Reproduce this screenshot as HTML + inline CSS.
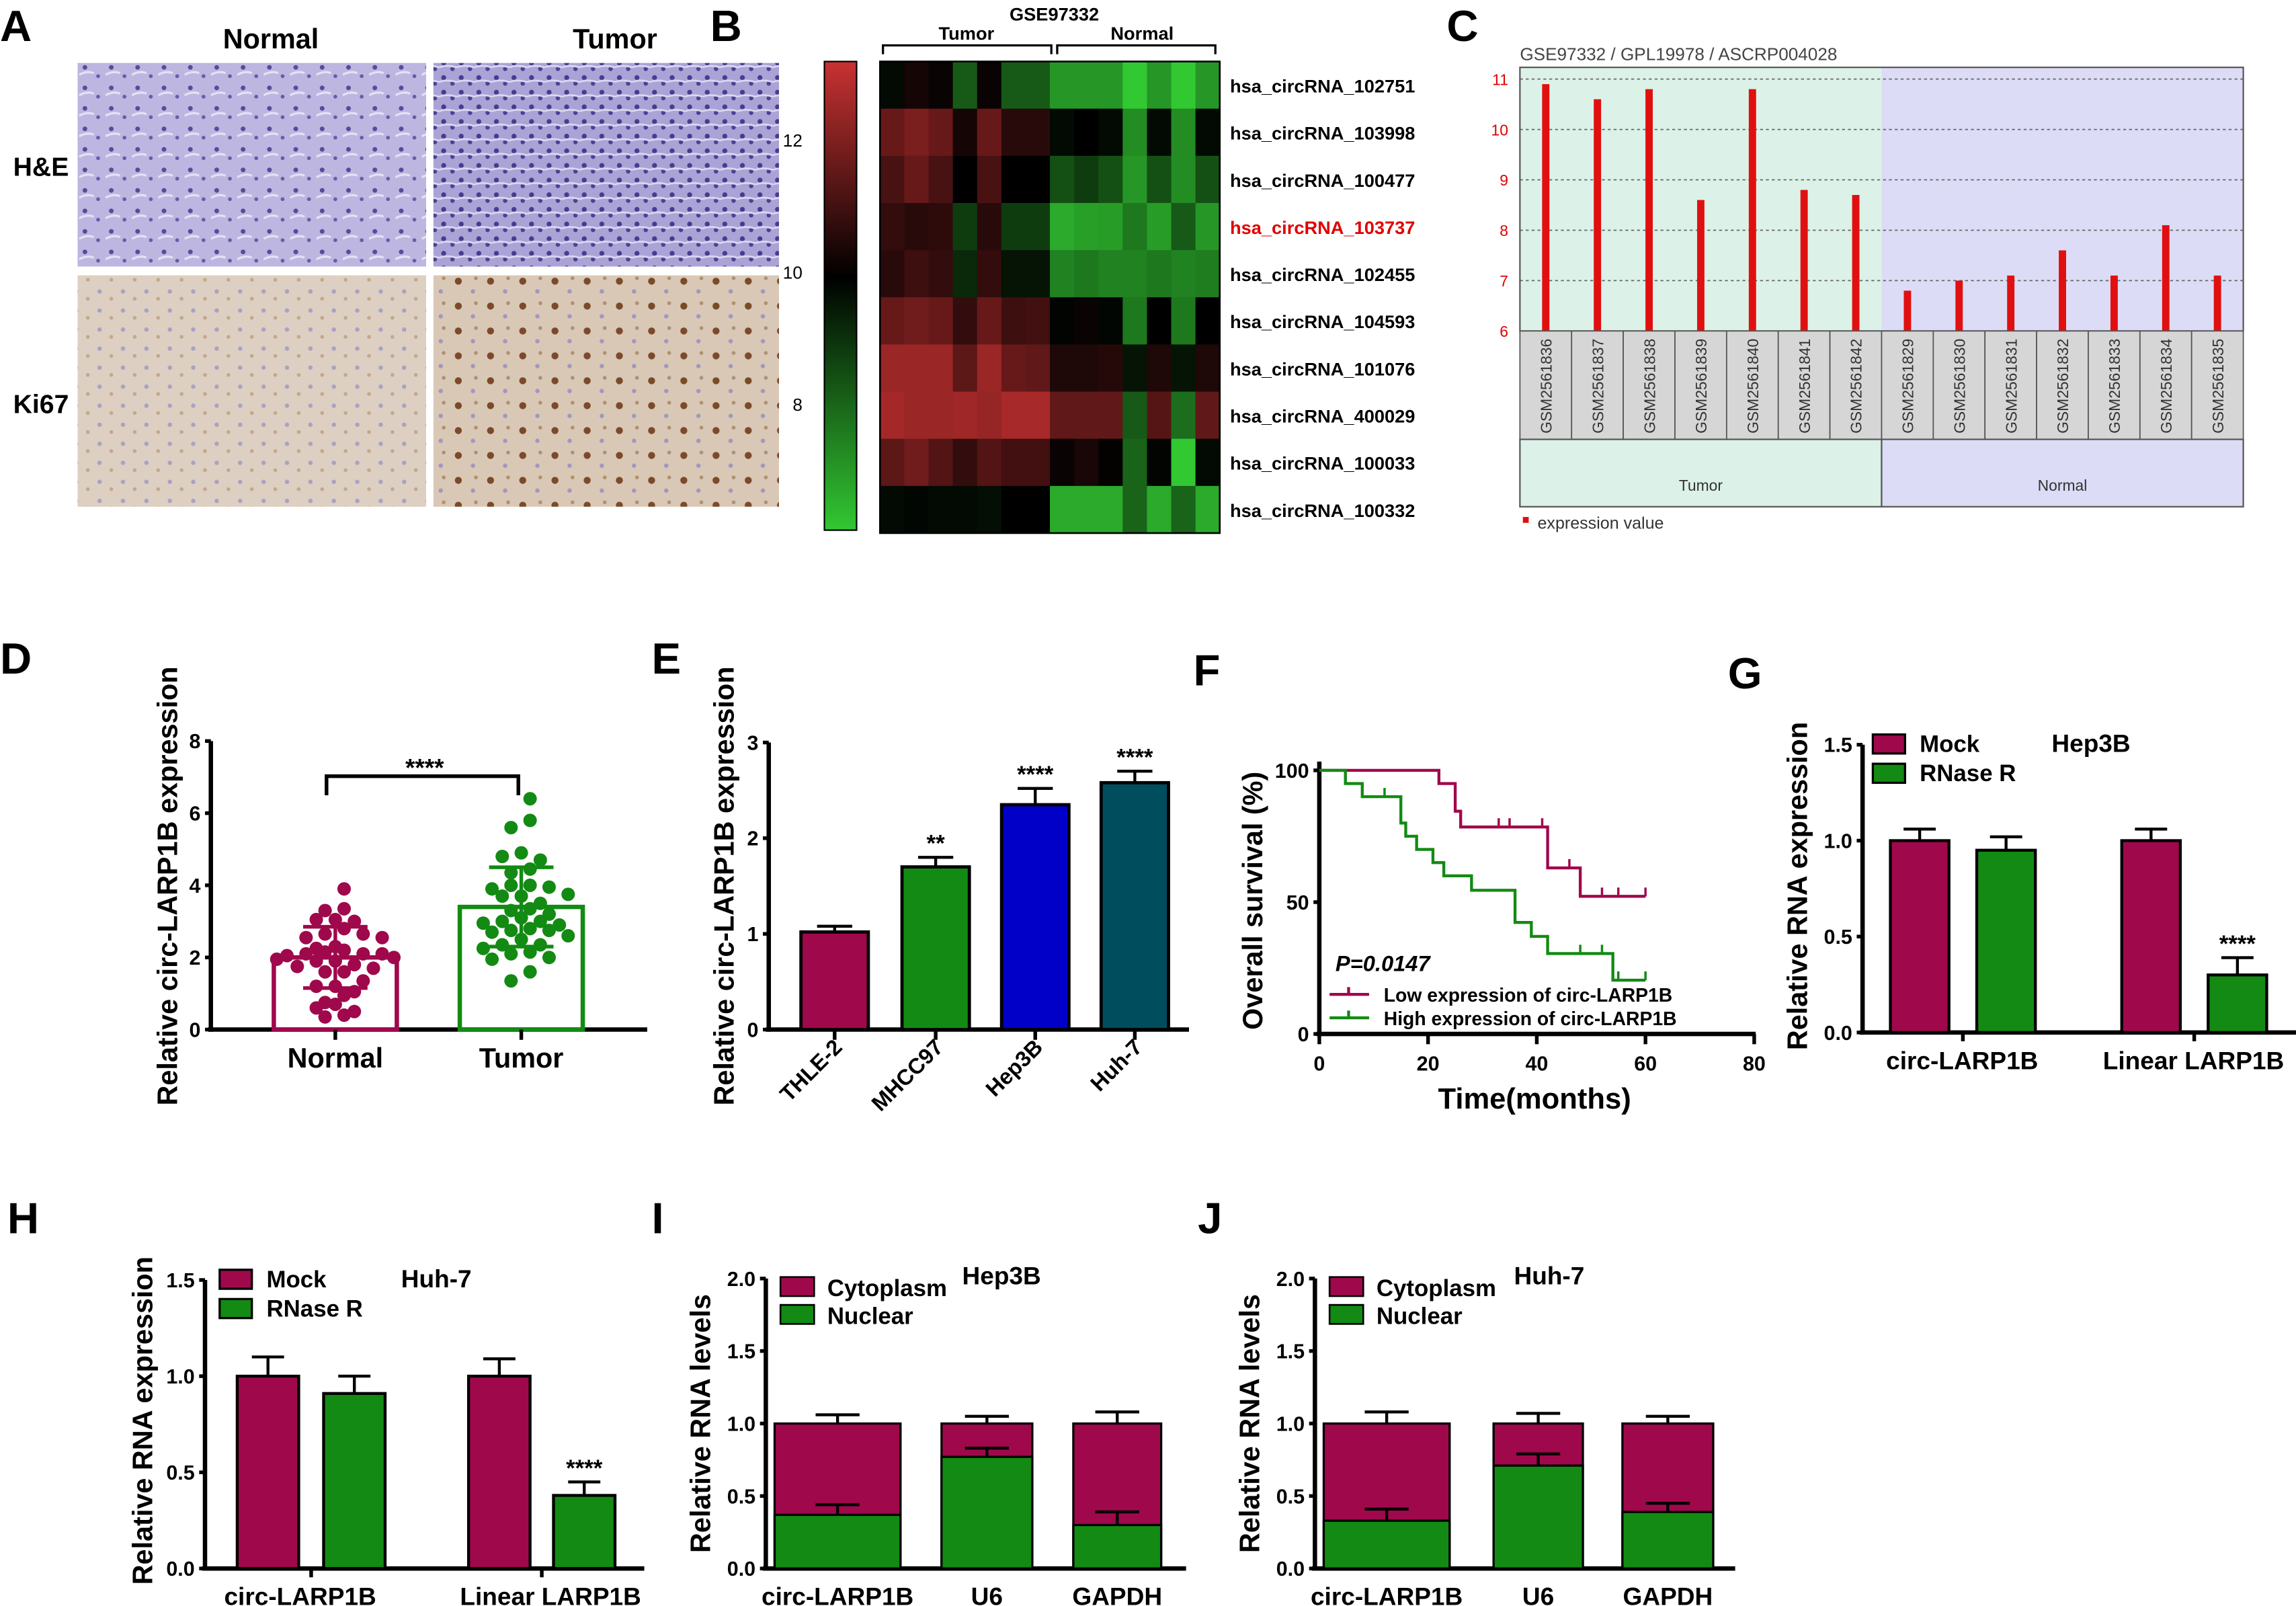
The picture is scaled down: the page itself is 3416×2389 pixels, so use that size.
<!DOCTYPE html>
<html><head><meta charset="utf-8"><style>
html,body{margin:0;padding:0;background:#fff;}
svg{display:block;font-family:"Liberation Sans",Arial,sans-serif;}
</style></head><body>
<svg id="fig" xmlns="http://www.w3.org/2000/svg" width="3416" height="2389" viewBox="0 0 1568 1096.6" preserveAspectRatio="none">
<defs>
<pattern id="he" width="18" height="14" patternUnits="userSpaceOnUse">
<rect width="18" height="14" fill="#bdb6e0"/><circle cx="4" cy="4" r="1.6" fill="#5a4a9a"/><circle cx="13" cy="10" r="1.3" fill="#6a5aa8"/><path d="M0 9 Q6 6 10 8" stroke="#e4e0f4" stroke-width="1.5" fill="none"/></pattern>
<pattern id="he2" width="12" height="10" patternUnits="userSpaceOnUse">
<rect width="12" height="10" fill="#a9a3d6"/><circle cx="3" cy="3" r="1.7" fill="#4a3a8f"/><circle cx="9" cy="7" r="1.5" fill="#4e3e94"/><path d="M0 6 Q5 4 12 6" stroke="#dcd8f0" stroke-width="1.2" fill="none"/></pattern>
<pattern id="ki" width="16" height="13" patternUnits="userSpaceOnUse">
<rect width="16" height="13" fill="#ddd0c2"/><circle cx="4" cy="4" r="1.5" fill="#a9a2c4"/><circle cx="12" cy="9" r="1.3" fill="#c4a88a"/></pattern>
<pattern id="ki2" width="22" height="17" patternUnits="userSpaceOnUse">
<rect width="22" height="17" fill="#dac8b6"/><circle cx="5" cy="5" r="2.4" fill="#7a4a2a"/><circle cx="15" cy="12" r="1.5" fill="#9f98c0"/><circle cx="17" cy="3" r="1.3" fill="#b09070"/></pattern>
<linearGradient id="cbar" x1="0" y1="0" x2="0" y2="1">
<stop offset="0" stop-color="#c83232"/><stop offset="0.46" stop-color="#000"/><stop offset="1" stop-color="#32c832"/></linearGradient>
</defs>
</svg>
<script>
// ---------- DATA ----------
const heatRows = ["hsa_circRNA_102751","hsa_circRNA_103998","hsa_circRNA_100477","hsa_circRNA_103737","hsa_circRNA_102455","hsa_circRNA_104593","hsa_circRNA_101076","hsa_circRNA_400029","hsa_circRNA_100033","hsa_circRNA_100332"];
const heatValues = [
[-0.05,0.1,0.05,-0.45,0.05,-0.45,-0.45,-0.75,-0.75,-0.75,-1,-0.75,-1,-0.75],
[0.5,0.6,0.5,0.1,0.5,0.2,0.2,-0.05,0,-0.05,-0.7,-0.05,-0.7,-0.05],
[0.35,0.5,0.35,0,0.35,0,0,-0.4,-0.3,-0.4,-0.75,-0.4,-0.7,-0.4],
[0.25,0.2,0.22,-0.3,0.2,-0.3,-0.3,-0.85,-0.8,-0.78,-0.6,-0.78,-0.45,-0.75],
[0.2,0.3,0.25,-0.2,0.25,-0.1,-0.1,-0.65,-0.6,-0.65,-0.65,-0.6,-0.65,-0.62],
[0.5,0.55,0.5,0.25,0.5,0.3,0.32,-0.02,0.05,-0.03,-0.6,0,-0.6,0],
[0.75,0.75,0.75,0.45,0.75,0.5,0.47,0.15,0.15,0.18,-0.1,0.15,-0.1,0.15],
[0.8,0.75,0.75,0.78,0.73,0.82,0.82,0.47,0.47,0.47,-0.45,0.42,-0.55,0.47],
[0.45,0.55,0.4,0.25,0.4,0.32,0.32,0.05,0.12,0.02,-0.5,-0.02,-1,-0.05],
[-0.05,-0.03,-0.05,-0.05,-0.07,0,0,-0.85,-0.85,-0.85,-0.5,-0.85,-0.5,-0.85]];
const cbarTicks = [12,10,8];
const gsmSamples = ["GSM2561836","GSM2561837","GSM2561838","GSM2561839","GSM2561840","GSM2561841","GSM2561842","GSM2561829","GSM2561830","GSM2561831","GSM2561832","GSM2561833","GSM2561834","GSM2561835"];
const gsmValues = [10.9,10.6,10.8,8.6,10.8,8.8,8.7,6.8,7.0,7.1,7.6,7.1,8.1,7.1];
const gsmTicks = [11,10,9,8,7,6];
const dNormal = [3.9,3.35,3.3,3.05,3.05,3.0,2.8,2.65,2.65,2.55,2.55,2.3,2.25,2.2,2.15,2.1,2.1,2.1,2.05,2.0,1.95,1.9,1.9,1.8,1.75,1.7,1.6,1.6,1.35,1.2,1.2,1.05,0.95,0.7,0.75,0.6,0.5,0.4,0.35];
const dTumor = [6.4,5.8,5.6,4.9,4.8,4.7,4.45,4.35,4.0,4.0,3.95,3.9,3.75,3.7,3.7,3.5,3.35,3.3,3.2,3.1,3.0,3.0,2.95,2.9,2.8,2.75,2.75,2.7,2.6,2.5,2.35,2.35,2.25,2.15,2.1,2.0,1.95,1.6,1.35];
const dMeans = [2.0,3.4];
const dSD = [0.85,1.1];
const dTicks = [0,2,4,6,8];
const eCats = ["THLE-2","MHCC97","Hep3B","Huh-7"];
const eValues = [1.02,1.7,2.35,2.58];
const eErr = [0.06,0.1,0.17,0.12];
const eStars = ["","**","****","****"];
const eTicks = [0,1,2,3];
const kmLowT = [0,22,25,26,42,48,60];
const kmLowS = [100,95,84.5,78.5,63,52.2,52.2];
const kmLowCens = [33,35,41,46,52,55,60];
const kmHighT = [0,4.8,7.9,15,15.9,17.9,20.9,22.9,28,36,39,42,54,60];
const kmHighS = [100,95,90,80,75,70,65,60,54.5,42.3,37,30.5,20.4,20.4];
const kmHighCens = [12,48,52,55,60];
const kmXTicks = [0,20,40,60,80];
const kmYTicks = [0,50,100];
const gMock = [1.0,1.0], gMockErr=[0.06,0.06], gRnase=[0.95,0.3], gRnaseErr=[0.07,0.09];
const hMock = [1.0,1.0], hMockErr=[0.1,0.09], hRnase=[0.91,0.38], hRnaseErr=[0.09,0.07];
const ghCats = ["circ-LARP1B","Linear LARP1B"];
const ghTicks = [0,0.5,1.0,1.5];
const fracCats = ["circ-LARP1B","U6","GAPDH"];
const iNuclear = [0.37,0.77,0.3], iNucErr=[0.07,0.06,0.09], iTotal=[1,1,1], iTotErr=[0.06,0.05,0.08];
const jNuclear = [0.33,0.71,0.39], jNucErr=[0.08,0.08,0.06], jTotal=[1,1,1], jTotErr=[0.08,0.07,0.05];
const fracTicks = [0,0.5,1.0,1.5,2.0];

// ---------- helpers ----------
const NS="http://www.w3.org/2000/svg";
const svg=document.getElementById('fig');
function mk(tag,attrs,parent){const e=document.createElementNS(NS,tag);for(const k in attrs)e.setAttribute(k,attrs[k]);(parent||svg).appendChild(e);return e;}
function txt(s,x,y,size,opts,parent){const e=mk('text',Object.assign({x:x,y:y,'font-size':size,'font-weight':'bold',fill:'#000'},opts||{}),parent);e.textContent=s;return e;}
const MAROON="#a0084c", GREEN="#138a13";

// ---------- panel letters ----------
[["A",0,28],["B",485,28],["C",988,28],["D",0,460],["E",445,460],["F",815,468],["G",1180,470],["H",5,842],["I",445,842],["J",818,842]].forEach(p=>{
 const t=txt(p[0],p[1],p[2],30);
 
 
});

// ---------- Panel A ----------
const gA=mk('g',{});


[["Normal",185,33],["Tumor",420,33]].forEach(c=>{const t=txt(c[0],c[1],c[2],19,{'text-anchor':'middle'},gA);
 
 });
[["H&E",28,120],["Ki67",28,282]].forEach(c=>{const t=txt(c[0],c[1],c[2],18,{'text-anchor':'middle'},gA);
 
 });
[[53,43,238,139,'url(#he)'],[296,43,236,139,'url(#he2)'],[53,188,238,158,'url(#ki)'],[296,188,236,158,'url(#ki2)']].forEach((r,i)=>{
 const e=mk('rect',{x:r[0],y:r[1],width:r[2],height:r[3],fill:r[4]},gA);
 
 
});

// ---------- Panel B heatmap ----------
const gB=mk('g',{});


const cb=mk('rect',{x:563,y:42,width:22,height:320,fill:'url(#cbar)',stroke:'#000','stroke-width':1},gB);


const cbScale=v=>42+(13.2-v)/(13.2-6.1)*320;
cbarTicks.forEach(v=>{const t=txt(String(v),548,cbScale(v)+4,12,{'text-anchor':'end','font-weight':'normal'},gB);
 
 });
const hx0=601,hy0=42,hw=232,hh=322;
const cw=hw/heatValues[0].length, rh=hh/heatValues.length;
function heatColor(v){if(v>=0)return `rgb(${Math.round(205*v)},${Math.round(50*v)},${Math.round(50*v)})`;const a=-v;return `rgb(${Math.round(50*a)},${Math.round(200*a)},${Math.round(50*a)})`;}
heatValues.forEach((row,r)=>{row.forEach((v,c)=>{
 const e=mk('rect',{x:hx0+c*cw,y:hy0+r*rh,width:cw+0.4,height:rh+0.4,fill:heatColor(v)},gB);
 
 });
 const t=txt(heatRows[r],840,hy0+r*rh+rh/2+5,12.5,{fill:r===3?'#e00000':'#000'},gB);
 
 
});
mk('rect',{x:hx0,y:hy0,width:hw,height:hh,fill:'none',stroke:'#000','stroke-width':1.2},gB);
mk('path',{d:`M603 37 V31 H718 V37 M722 37 V31 H830 V37`,stroke:'#000','stroke-width':1.5,fill:'none'},gB);
[["GSE97332",720,14],["Tumor",660,27],["Normal",780,27]].forEach(c=>{const t=txt(c[0],c[1],c[2],12.5,{'text-anchor':'middle'},gB);
 
 });

// ---------- Panel C ----------
const gC=mk('g',{});


const cx0=1038,cx1=1532,cyTop=46,cyBase=226;
const cY=v=>cyBase-(v-6)*34.4;
const ct=txt("GSE97332 / GPL19978 / ASCRP004028",1038,41,12,{'font-weight':'normal',fill:'#444'},gC);


const split=cx0+(cx1-cx0)*7/14;
mk('rect',{x:cx0,y:cyTop,width:split-cx0,height:cyBase-cyTop,fill:'#dcf2e8'},gC);
mk('rect',{x:split,y:cyTop,width:cx1-split,height:cyBase-cyTop,fill:'#dcdcf6'},gC);
gsmTicks.forEach(v=>{ if(v>6) mk('line',{x1:cx0,x2:cx1,y1:cY(v),y2:cY(v),stroke:'#666','stroke-dasharray':'2,2','stroke-width':0.8},gC);
 const t=txt(String(v),1030,cY(v)+4,10.5,{'text-anchor':'end','font-weight':'normal',fill:'#e00000'},gC);
 
 });
mk('rect',{x:cx0,y:cyTop,width:cx1-cx0,height:cyBase-cyTop,fill:'none',stroke:'#555','stroke-width':1},gC);
const sw=(cx1-cx0)/gsmSamples.length;
gsmSamples.forEach((s,i)=>{
 const bx=cx0+sw*i+sw/2;
 const b=mk('rect',{x:bx-2.5,y:cY(gsmValues[i]),width:5,height:cyBase-cY(gsmValues[i]),fill:'#e01010'},gC);
 
 
 mk('rect',{x:cx0+sw*i,y:cyBase,width:sw,height:74,fill:'#d6d6d6',stroke:'#555','stroke-width':0.8},gC);
 const t=txt(s,0,0,10.5,{'font-weight':'normal',fill:'#333',transform:`translate(${bx+4},296) rotate(-90)`},gC);
 
 
});
mk('rect',{x:cx0,y:300,width:split-cx0,height:46,fill:'#dcf2e8',stroke:'#555','stroke-width':1},gC);
mk('rect',{x:split,y:300,width:cx1-split,height:46,fill:'#dcdcf6',stroke:'#555','stroke-width':1},gC);
[["Tumor",(cx0+split)/2],["Normal",(split+cx1)/2]].forEach(c=>{const t=txt(c[0],c[1],335,10.5,{'text-anchor':'middle','font-weight':'normal',fill:'#333'},gC);
 
 });
mk('rect',{x:1040,y:353,width:4,height:4,fill:'#e01010'},gC);
const cl=txt("expression value",1050,361,11.5,{'font-weight':'normal',fill:'#333'},gC);



// ---------- generic axis ----------
function yAxis(g,x,y0,y1,ticks,scale,label,labelX,labelY,fmtf){
 mk('line',{x1:x,x2:x,y1:y0+1.5,y2:y1,stroke:'#000','stroke-width':3},g);
 ticks.forEach(v=>{mk('line',{x1:x-4,x2:x,y1:scale(v),y2:scale(v),stroke:'#000','stroke-width':2.5},g);
  const t=txt(fmtf?fmtf(v):String(v),x-7,scale(v)+5,14,{'text-anchor':'end'},g);
  
  });
 const t=txt(label,0,0,19,{'text-anchor':'middle',transform:`translate(${labelX},${labelY}) rotate(-90)`},g);
 
 
}

// ---------- Panel D ----------
const gD=mk('g',{});


const dY=v=>703-v*(703-506)/8;
yAxis(gD,144,703,506,dTicks,dY,"Relative circ-LARP1B expression",121,605);
mk('line',{x1:142,x2:442,y1:703,y2:703,stroke:'#000','stroke-width':3},gD);
const dCenters=[229,356], dCols=[MAROON,GREEN], dNames=["Normal","Tumor"], dSets=[dNormal,dTumor];
dSets.forEach((set,gi)=>{
 const c=dCenters[gi];
 const b=mk('rect',{x:c-42,y:dY(dMeans[gi]),width:84,height:703-dY(dMeans[gi]),fill:'none',stroke:dCols[gi],'stroke-width':3},gD);
 
 
 mk('line',{x1:c,x2:c,y1:703,y2:710,stroke:'#000','stroke-width':2.5},gD);
 const t=txt(dNames[gi],c,729,19,{'text-anchor':'middle'},gD);
 
 
 const bins={};
 set.forEach((v,i)=>{const k=Math.round(v/0.3);bins[k]=(bins[k]||0)+1;const n=bins[k]-1;
  const off=(n%2===0?1:-1)*Math.ceil(n/2)*13*(n===0?0:1)+((k%2)?6:0);
  const p=mk('circle',{cx:c+Math.max(-40,Math.min(40,off)),cy:dY(v),r:4.6,fill:dCols[gi]},gD);
  
  });
 mk('path',{d:`M${c} ${dY(dMeans[gi]-dSD[gi])} V${dY(dMeans[gi]+dSD[gi])} M${c-22} ${dY(dMeans[gi]-dSD[gi])} H${c+22} M${c-22} ${dY(dMeans[gi]+dSD[gi])} H${c+22}`,stroke:dCols[gi],'stroke-width':2.5,fill:'none'},gD);
});
mk('path',{d:`M223 543 V530 H354 V543`,stroke:'#000','stroke-width':2.5,fill:'none'},gD);
const dst=txt("****",290,530,17,{'text-anchor':'middle'},gD);



// ---------- Panel E ----------
const gE=mk('g',{});


const eY=v=>703-v*(703-507)/3;
yAxis(gE,525,703,507,eTicks,eY,"Relative circ-LARP1B expression",501,605);
mk('line',{x1:523,x2:812,y1:703,y2:703,stroke:'#000','stroke-width':3},gE);
const eCenters=[570,639,707,775], eCols=[MAROON,GREEN,"#0000c8","#004d5e"];
eCats.forEach((c,i)=>{
 const x=eCenters[i];
 const b=mk('rect',{x:x-23,y:eY(eValues[i]),width:46,height:703-eY(eValues[i]),fill:eCols[i],stroke:'#000','stroke-width':2.2},gE);
 
 
 mk('path',{d:`M${x} ${eY(eValues[i])} V${eY(eValues[i]+eErr[i])} M${x-12} ${eY(eValues[i]+eErr[i])} H${x+12}`,stroke:'#000','stroke-width':2,fill:'none'},gE);
 if(eStars[i]){const s=txt(eStars[i],x,eY(eValues[i]+eErr[i])-4,16,{'text-anchor':'middle'},gE);
  
  }
 mk('line',{x1:x,x2:x,y1:703,y2:710,stroke:'#000','stroke-width':2.5},gE);
 const t=txt(c,0,0,15,{'text-anchor':'end',transform:`translate(${x+6},${716}) rotate(-45)`},gE);
 
 
});

// ---------- Panel F ----------
const gF=mk('g',{});


const fX=t=>901+t*(1198-901)/80, fY=s=>706-s*(706-526)/100;
yAxis(gF,901,706,520,kmYTicks,fY,"Overall survival (%)",862,615);
mk('line',{x1:899,x2:1199,y1:706,y2:706,stroke:'#000','stroke-width':3},gF);
kmXTicks.forEach(v=>{mk('line',{x1:fX(v),x2:fX(v),y1:706,y2:713,stroke:'#000','stroke-width':2.5},gF);
 const t=txt(String(v),fX(v),731,14,{'text-anchor':'middle'},gF);
 
 });
const fxt=txt("Time(months)",1048,757,20,{'text-anchor':'middle'},gF);


function kmStep(T,S){let d=`M${fX(T[0])} ${fY(S[0])}`;for(let i=1;i<T.length;i++){d+=` H${fX(T[i])} V${fY(S[i])}`;}return d;}
function survAt(T,S,t){let s=S[0];for(let i=0;i<T.length;i++){if(T[i]<=t)s=S[i];}return s;}
[[kmLowT,kmLowS,kmLowCens,MAROON,'low'],[kmHighT,kmHighS,kmHighCens,GREEN,'high']].forEach(k=>{
 const p=mk('path',{d:kmStep(k[0],k[1]),stroke:k[3],'stroke-width':2,fill:'none'},gF);
 
 
 k[2].forEach(t=>{const y=fY(survAt(k[0],k[1],t));mk('line',{x1:fX(t),x2:fX(t),y1:y,y2:y-6,stroke:k[3],'stroke-width':1.6},gF);});
});
const pv=txt("P=0.0147",912,663,15,{'font-style':'italic'},gF);


[["Low expression of circ-LARP1B",MAROON,684],["High expression of circ-LARP1B",GREEN,700]].forEach(l=>{
 mk('path',{d:`M908 ${l[2]-5} H935 M921 ${l[2]-5} V${l[2]-10}`,stroke:l[1],'stroke-width':2,fill:'none'},gF);
 const t=txt(l[0],945,l[2],13,{},gF);
 
 });

// ---------- grouped bars G & H ----------
function groupPanel(name,ax,y0,y1,xEnd,cats,mock,mockE,rn,rnE,bxs,bw,catX,title,titleX,legX,labelX,labelCY){
 const g=mk('g',{});
 
 
 const Y=v=>y0-v*(y0-y1)/1.5;
 yAxis(g,ax,y0,y1,ghTicks,Y,"Relative RNA expression",labelX,labelCY,v=>v.toFixed(1));
 mk('line',{x1:ax-2,x2:xEnd,y1:y0,y2:y0,stroke:'#000','stroke-width':3},g);
 cats.forEach((c,i)=>{
  [[mock[i],mockE[i],MAROON,bxs[i*2],'mock'],[rn[i],rnE[i],GREEN,bxs[i*2+1],'rnase-r']].forEach(b=>{
   const r=mk('rect',{x:b[3],y:Y(b[0]),width:bw,height:y0-Y(b[0]),fill:b[2],stroke:'#000','stroke-width':2},g);
   
   
   mk('path',{d:`M${b[3]+bw/2} ${Y(b[0])} V${Y(b[0]+b[1])} M${b[3]+bw/2-11} ${Y(b[0]+b[1])} H${b[3]+bw/2+11}`,stroke:'#000','stroke-width':2,fill:'none'},g);
  });
  mk('line',{x1:(bxs[i*2]+bxs[i*2+1]+bw)/2,x2:(bxs[i*2]+bxs[i*2+1]+bw)/2,y1:y0,y2:y0+6,stroke:'#000','stroke-width':2.5},g);
  const t=txt(c,catX[i],y0+25,17,{'text-anchor':'middle'},g);
  
  
 });
 const s=txt("****",bxs[3]+bw/2,Y(rn[1]+rnE[1])-4,16,{'text-anchor':'middle'},g);
 
 
 const tt=txt(title,titleX,y1+5,17,{'text-anchor':'middle'},g);
 
 
 [["Mock",MAROON,0],["RNase R",GREEN,20]].forEach(l=>{
  mk('rect',{x:legX,y:y1-7+l[2],width:22,height:13,fill:l[1],stroke:'#000','stroke-width':1.5},g);
  const t=txt(l[0],legX+32,y1+5+l[2],16,{},g);
  
  });
}
groupPanel('panel-g-hep3b',1272,705,508.5,1568,ghCats,gMock,gMockErr,gRnase,gRnaseErr,[1291,1350,1449,1508],40,[1340,1498],"Hep3B",1428,1279,1234,605);
groupPanel('panel-h-huh7',140,1071,874,440,ghCats,hMock,hMockErr,hRnase,hRnaseErr,[162,221,320,378],42,[205,376],"Huh-7",298,150,104,970);

// ---------- stacked I & J ----------
function stackPanel(name,ax,xEnd,nuc,nucE,tot,totE,bars,title,titleX,labelX){
 const g=mk('g',{});
 
 
 const y0=1071,y1=873;
 const Y=v=>y0-v*(y0-y1)/2;
 yAxis(g,ax,y0,y1,fracTicks,Y,"Relative RNA levels",labelX,972,v=>v.toFixed(1));
 mk('line',{x1:ax-2,x2:xEnd,y1:y0,y2:y0,stroke:'#000','stroke-width':3},g);
 fracCats.forEach((c,i)=>{
  const b=bars[i];
  const cx=(b[0]+b[1])/2;
  const r1=mk('rect',{x:b[0],y:Y(tot[i]),width:b[1]-b[0],height:y0-Y(tot[i]),fill:MAROON,stroke:'#000','stroke-width':1.5},g);
  
  
  const r2=mk('rect',{x:b[0],y:Y(nuc[i]),width:b[1]-b[0],height:y0-Y(nuc[i]),fill:GREEN,stroke:'#000','stroke-width':1.5},g);
  
  
  mk('path',{d:`M${cx} ${Y(tot[i])} V${Y(tot[i]+totE[i])} M${cx-15} ${Y(tot[i]+totE[i])} H${cx+15} M${cx} ${Y(nuc[i])} V${Y(nuc[i]+nucE[i])} M${cx-15} ${Y(nuc[i]+nucE[i])} H${cx+15}`,stroke:'#000','stroke-width':2,fill:'none'},g);
  const t=txt(c,cx,y0+25,17,{'text-anchor':'middle'},g);
  
  
 });
 const tt=txt(title,titleX,y1+4,17,{'text-anchor':'middle'},g);
 
 
 [["Cytoplasm",MAROON,0],["Nuclear",GREEN,19]].forEach(l=>{
  mk('rect',{x:ax+10,y:y1-1+l[2],width:23,height:13,fill:l[1],stroke:'#000','stroke-width':1.2},g);
  const t=txt(l[0],ax+42,y1+12+l[2],16,{},g);
  
  });
}
stackPanel('panel-i-hep3b',523,810,iNuclear,iNucErr,iTotal,iTotErr,[[529,615],[643,705],[733,793]],"Hep3B",684,485);
stackPanel('panel-j-huh7',898,1185,jNuclear,jNucErr,jTotal,jTotErr,[[904,990],[1020,1081],[1108,1170]],"Huh-7",1058,860);
</script>
</body></html>
